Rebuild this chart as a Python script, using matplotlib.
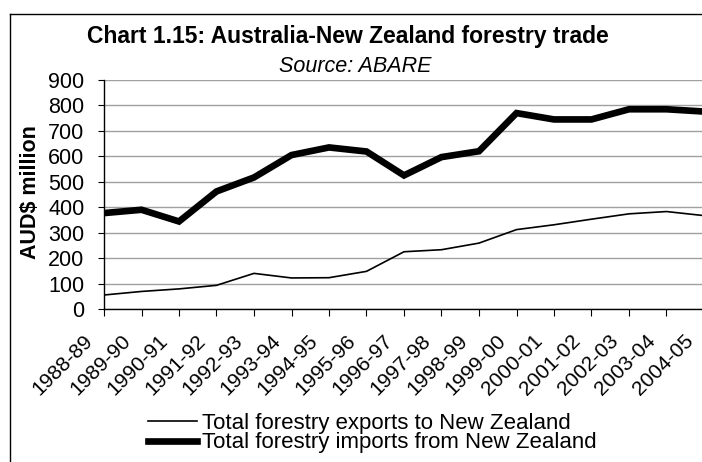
import numpy as np
import matplotlib
matplotlib.use("Agg")
import matplotlib.pyplot as plt
from matplotlib.lines import Line2D
from matplotlib.transforms import ScaledTranslation, blended_transform_factory

plt.rcParams['font.family'] = ['Liberation Sans', 'DejaVu Sans']

# financial years on the category axis
years = ["1988-89", "1989-90", "1990-91", "1991-92", "1992-93", "1993-94",
         "1994-95", "1995-96", "1996-97", "1997-98", "1998-99", "1999-00",
         "2000-01", "2001-02", "2002-03", "2003-04", "2004-05"]

# AUD$ million
exports_nz = [55, 69, 79, 93, 140, 122, 123, 148, 225, 233, 259, 312,
              331, 353, 374, 383, 367]
imports_nz = [377, 390, 344, 462, 517, 605, 635, 619, 525, 597, 620, 770,
              745, 745, 785, 785, 776]

y_ticks = [0, 100, 200, 300, 400, 500, 600, 700, 800, 900]

W, H = 702, 462
fig = plt.figure(figsize=(W / 100, H / 100), dpi=100)

# plot area in pixels: x 104..704, y 80..309
ax = fig.add_axes([104 / W, 1 - 309 / H, 600 / W, 229 / H])

x = np.arange(len(years))
ax.plot(x, exports_nz, color="black", lw=1.2,
        label="Total forestry exports to New Zealand")
ax.plot(x, imports_nz, color="black", lw=4.8, solid_joinstyle="miter",
        label="Total forestry imports from New Zealand")

ax.set_xlim(0, len(years) - 1)
ax.set_ylim(0, 900)
ax.set_yticks(y_ticks)
ax.set_yticklabels([str(v) for v in y_ticks], fontsize=15.5)
ax.yaxis.grid(True, color="#a0a0a0", lw=1.0)
ax.set_axisbelow(True)

# category labels sit a little left of their tick, slanted at 45 degrees
ax.set_xticks(x)
ax.tick_params(axis="x", direction="out", length=5, width=0.8,
               labelbottom=False)
ax.tick_params(axis="y", direction="out", length=4.5, width=0.8, pad=9.5)
base = blended_transform_factory(ax.transData, ax.transAxes)
offset = ScaledTranslation(-14 / 100, -29 / 100, fig.dpi_scale_trans)
for i, yr in enumerate(years):
    ax.text(x[i], 0, yr, transform=base + offset, fontsize=15,
            rotation=45, ha="right", va="center", rotation_mode="anchor",
            clip_on=False)

for side in ("top", "right"):
    ax.spines[side].set_visible(False)
for side in ("left", "bottom"):
    ax.spines[side].set_linewidth(1.0)
ax.patch.set_visible(False)

fig.text(348 / W, 1 - 37 / H, "Chart 1.15: Australia-New Zealand forestry trade",
         ha="center", va="center", fontsize=16.5, fontweight="bold")
fig.text(355 / W, 1 - 67 / H, "Source: ABARE", ha="center", va="center",
         fontsize=15.5, style="italic")
fig.text(30 / W, 1 - 192 / H, "AUD$ million", ha="center", va="center",
         rotation=90, fontsize=15.5, fontweight="bold")

fig.legend(loc="upper left", bbox_to_anchor=(148 / W, 1 - 413 / H),
           frameon=False, fontsize=16, borderpad=0, borderaxespad=0,
           handlelength=2.2, handletextpad=0.22, labelspacing=-0.07)

# outer chart border
fig.add_artist(Line2D([10 / W, 10 / W], [0, 1 - 14 / H], color="black",
                      lw=1.0, transform=fig.transFigure))
fig.add_artist(Line2D([10 / W, 1], [1 - 14 / H, 1 - 14 / H], color="black",
                      lw=1.0, transform=fig.transFigure))

fig.savefig("out.png", dpi=100)
